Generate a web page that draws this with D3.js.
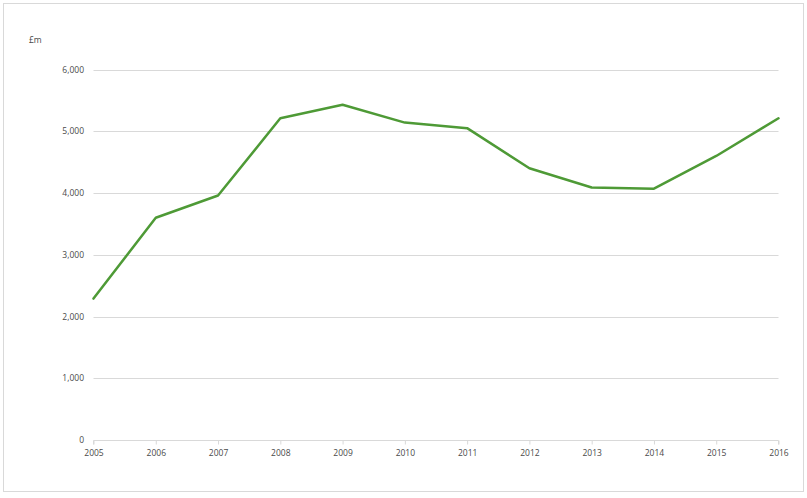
<!DOCTYPE html>
<html><head><meta charset="utf-8">
<script src="https://cdn.jsdelivr.net/npm/d3@7"></script>
<style>
html,body{margin:0;padding:0;background:#fff;}
svg{display:block;}
</style></head>
<body>
<script>
const years = ["2005","2006","2007","2008","2009","2010","2011","2012","2013","2014","2015","2016"];
const values = [2290, 3600, 3960, 5210, 5430, 5140, 5050, 4400, 4090, 4070, 4600, 5210];
const yTicks = [0, 1000, 2000, 3000, 4000, 5000, 6000];
const unitLabel = "£m";

const W = 807, H = 498;
const svg = d3.select("body").append("svg").attr("width", W).attr("height", H);
const font = "'Open Sans', sans-serif";
const textColor = "#4a4a4a";

svg.append("rect").attr("x", 3.5).attr("y", 3.5).attr("width", 800).attr("height", 488)
  .attr("fill", "#fff").attr("stroke", "#d9d9d9").attr("stroke-width", 1);

const x = d3.scalePoint().domain(years).range([93.5, 778.5]);
const y = d3.scaleLinear().domain([0, 6000]).range([440, 69.5]);

// gridlines
svg.append("g").selectAll("line").data(yTicks.filter(d => d > 0)).join("line")
  .attr("x1", 93.5).attr("x2", 778.5)
  .attr("y1", d => Math.round(y(d)) + 0.5).attr("y2", d => Math.round(y(d)) + 0.5)
  .attr("stroke", "#d9d9d9").attr("stroke-width", 1);

// y labels
svg.append("g").selectAll("text").data(yTicks).join("text")
  .attr("x", 84).attr("y", d => y(d) + 3)
  .attr("text-anchor", "end")
  .attr("font-family", font).attr("font-size", "8.5px").attr("fill", textColor)
  .text(d => d3.format(",")(d));

// x axis
const xAxis = d3.axisBottom(x).tickSize(4).tickPadding(5);
const gx = svg.append("g").attr("transform", `translate(0,${Math.round(y(0)) + 0.5})`).call(xAxis);
gx.select(".domain").attr("stroke", "#d9d9d9").attr("d", `M93.5,4V0H778.5V4`);
gx.selectAll(".tick line").attr("stroke", "#d9d9d9");
gx.selectAll(".tick text").attr("font-family", font).attr("font-size", "8.5px").attr("fill", textColor);

// unit label
svg.append("text").attr("x", 29).attr("y", 43)
  .attr("font-family", font).attr("font-size", "8.5px").attr("fill", textColor).text(unitLabel);

// line
const line = d3.line().x((d, i) => x(years[i])).y(d => y(d));
svg.append("path").datum(values).attr("d", line)
  .attr("fill", "none").attr("stroke", "#4e9a36").attr("stroke-width", 2.5)
  .attr("stroke-linejoin", "round").attr("stroke-linecap", "round");
</script>
</body></html>
